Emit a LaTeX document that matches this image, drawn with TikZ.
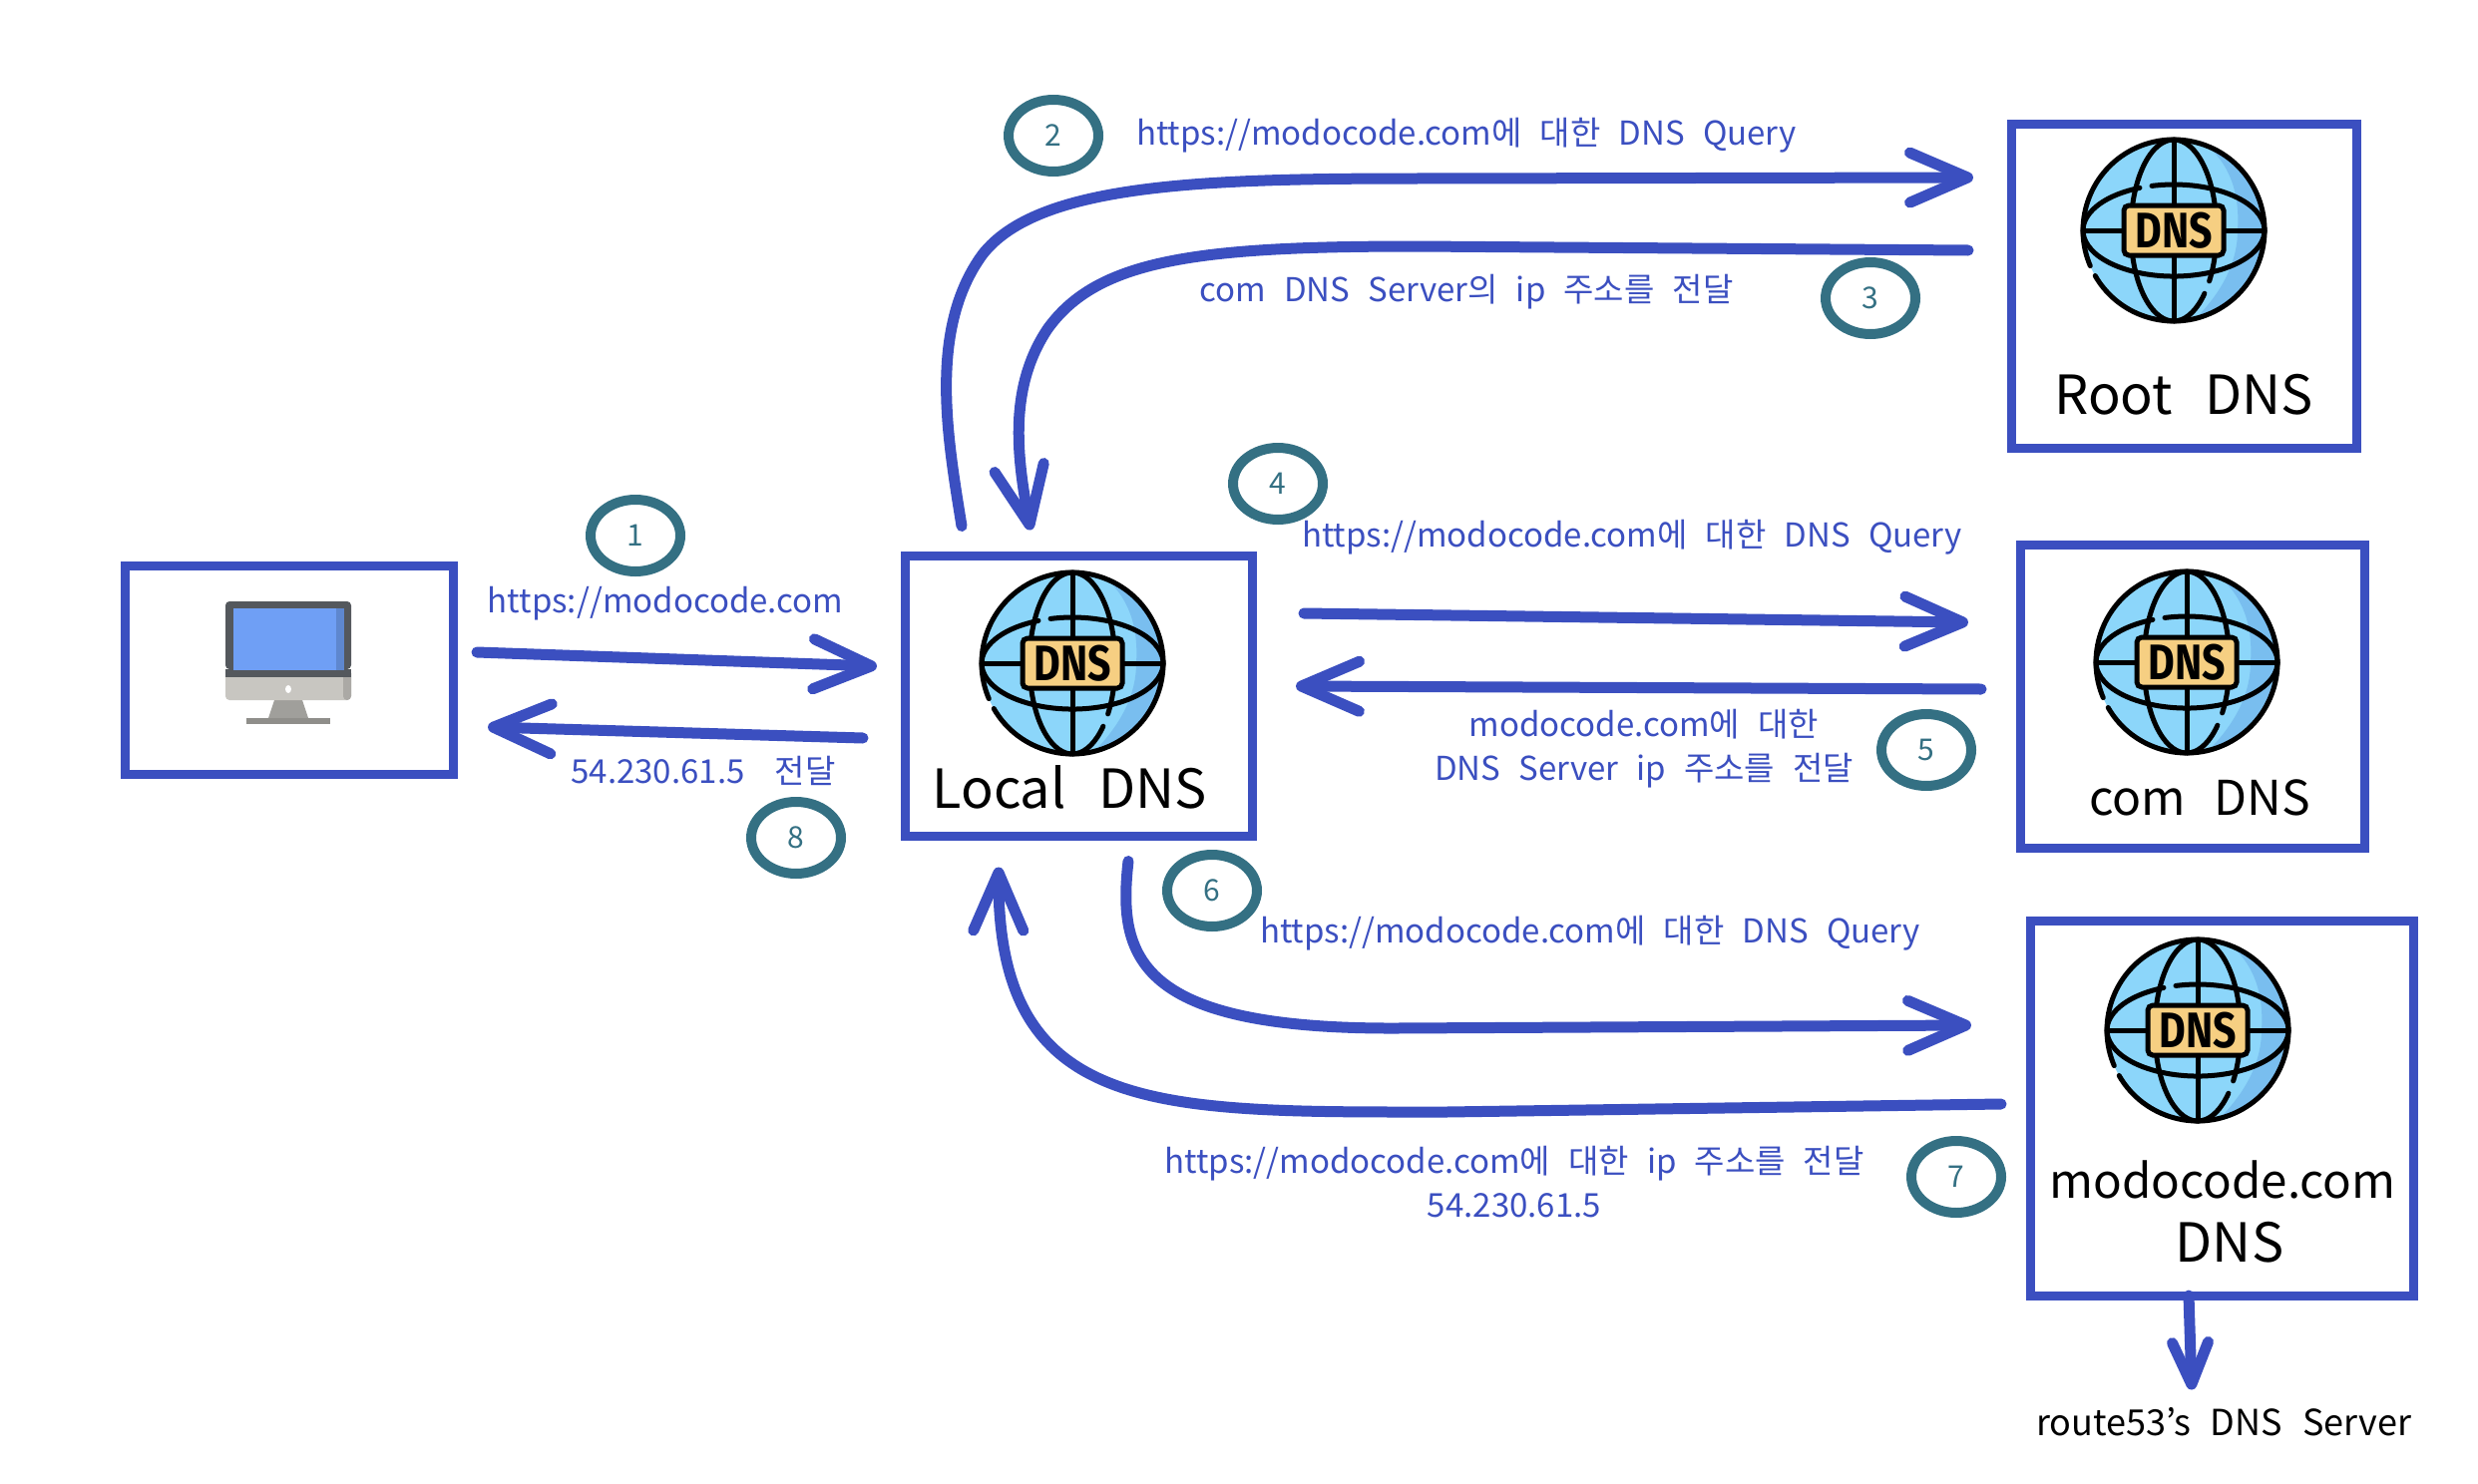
\documentclass[tikz,border=0pt]{standalone}
\usepackage{fontspec}
\setmainfont{Noto Sans CJK KR}
\newfontfamily\tagfont{Fira Sans}
\usetikzlibrary{arrows.meta}
\usetikzlibrary{shapes.geometric}
\definecolor{flowBlue}{HTML}{3B4FC0}
\definecolor{badgeTeal}{HTML}{347083}
\definecolor{globeLight}{HTML}{8CD6FA}
\definecolor{globeDark}{HTML}{79BEEF}
\definecolor{tagOrange}{HTML}{F6CF82}
\definecolor{bezelDark}{HTML}{54585D}
\definecolor{screenBlue}{HTML}{6F9FF5}
\definecolor{screenEdge}{HTML}{5E87CF}
\definecolor{chinGray}{HTML}{C8C6C1}
\definecolor{chinEdge}{HTML}{ABA9A5}
\definecolor{standGray}{HTML}{A09F9B}
\definecolor{baseGray}{HTML}{8F8E8A}
\newcommand{\noteFont}[1]{\fontsize{#1}{44}\selectfont\spaceskip .55em\relax}
\newcommand{\titleFont}[1]{\fontsize{#1}{64}\selectfont\spaceskip .6em\relax}
\tikzset{
  dnsGlobe/.pic={
    \begin{scope}[x=1pt,y=1pt,line width=5pt,line cap=round]
    \fill[globeLight] (0,0) circle[radius=91];
    \fill[globeDark] (34,84.4) .. controls (60,62) and (66,30) .. (64,0) .. controls (64,-35) and (45,-65) .. (22,-88.3) arc[start angle=-76,end angle=68,radius=91] -- cycle;
    \draw (-78.8,-45.5) arc[start angle=210,end angle=563,radius=91];
    \draw (35.6,-50.9) arc[start angle=-34,end angle=316,x radius=43,y radius=91];
    \draw (-22,44.6) arc[start angle=104,end angle=-248,x radius=91,y radius=46];
    \draw (0,91) -- (0,-91);
    \draw (-91,0) -- (91,0);
    \node (-tag) [draw, fill=tagOrange, rounded corners=5pt, minimum width=100pt, minimum height=50pt, inner sep=0pt, font=\tagfont\fontsize{50}{50}\selectfont\bfseries] at (0,0) {\scalebox{.82}[1]{DNS}};
    \end{scope}
  },
  monitorIcon/.pic={
    \begin{scope}[x=1pt,y=1pt]
    \fill[standGray] (-14,-41) -- (14,-41) -- (20,-59) -- (-20,-59) -- cycle;
    \fill[baseGray] (-42,-59) rectangle (42,-65);
    \fill[chinGray, rounded corners=4pt] (-63,-10) -- (-63,-41) -- (63,-41) -- (63,-10) -- cycle;
    \fill[chinEdge, rounded corners=4pt] (55,-10) -- (55,-41) -- (63,-41) -- (63,-10) -- cycle;
    \fill[bezelDark, rounded corners=4pt] (-63,-10) -- (-63,58) -- (63,58) -- (63,-10) -- cycle;
    \fill[bezelDark] (-63,-18) rectangle (63,-10);
    \fill[screenBlue] (-55,-11) rectangle (56,51);
    \fill[screenEdge] (48,-11) rectangle (56,51);
    \fill[white] (0,-30) ellipse[x radius=3,y radius=4];
    \end{scope}
  }
}
\begin{document}
\begin{tikzpicture}[x=1pt,y=-1pt]
\tikzstyle{boxStyle}=[shape = rectangle, draw = flowBlue, line width = 9pt, inner sep = 0pt, outer sep = 0pt]
\tikzstyle{badgeStyle}=[shape = ellipse, draw = badgeTeal, text = badgeTeal, line width = 10pt, minimum width = 90pt, minimum height = 72pt, inner sep = 0pt, font = \fontsize{30}{30}\selectfont]
\tikzstyle{flowStyle}=[draw = flowBlue, line width = 11pt, line cap = round, -{Straight Barb[length = 58pt, width = 50pt, line width = 11pt, round]}]
\tikzstyle{noteStyle}=[text = flowBlue, align = center, inner sep = 0pt, font = \noteFont{33}]
\tikzstyle{titleStyle}=[text = black, align = center, inner sep = 0pt, font = \titleFont{54}]
\useasboundingbox (0,0) rectangle (2484,1488);
\node[boxStyle, minimum width = 329pt, minimum height = 209pt] (pc) at (289.5,672) {};
\node[boxStyle, minimum width = 348pt, minimum height = 281pt] (local) at (1081,698) {};
\node[boxStyle, minimum width = 346pt, minimum height = 325pt] (root) at (2189,287) {};
\node[boxStyle, minimum width = 345pt, minimum height = 304pt] (com) at (2197.5,698) {};
\node[boxStyle, minimum width = 384pt, minimum height = 376pt] (modo) at (2227,1111) {};
\pic (pcicon) at (289,661) {monitorIcon};
\pic (localglobe) at (1075,665) {dnsGlobe};
\pic (rootglobe) at (2179,231) {dnsGlobe};
\pic (comglobe) at (2192,664) {dnsGlobe};
\pic (modoglobe) at (2203,1033) {dnsGlobe};
\node[titleStyle] (localtitle) at (1072,789) {Local DNS};
\node[titleStyle] (roottitle) at (2189,396) {Root DNS};
\node[titleStyle, font = \titleFont{48}] (comtitle) at (2205,800) {com DNS};
\node[titleStyle] (modotitle) at (2228,1215) {{\fontsize{47.5}{64}\selectfont modocode.com}\\\hspace*{14pt}DNS};
\node[badgeStyle] (b1) at (637,537) {1};
\node[badgeStyle] (b2) at (1056,136) {2};
\node[badgeStyle] (b3) at (1875,299) {3};
\node[badgeStyle] (b4) at (1281,485) {4};
\node[badgeStyle] (b5) at (1931,752) {5};
\node[badgeStyle] (b6) at (1215,893) {6};
\node[badgeStyle] (b7) at (1961,1180) {7};
\node[badgeStyle] (b8) at (798,840) {8};
\node[noteStyle] (n1) at (667,605) {https://modocode.com};
\node[noteStyle] (n2) at (1470,136) {https://modocode.com에 대한 DNS Query};
\node[noteStyle] (n3) at (1470,293) {com DNS Server의 ip 주소를 전달};
\node[noteStyle] (n4) at (1636,539) {https://modocode.com에 대한 DNS Query};
\node[noteStyle] (n5) at (1648,751) {modocode.com에 대한\\DNS Server ip 주소를 전달};
\node[noteStyle] (n6) at (1594,936) {https://modocode.com에 대한 DNS Query};
\node[noteStyle] (n7) at (1518,1185) {https://modocode.com에 대한 ip 주소를 전달\\54.230.61.5};
\node[noteStyle] (n8) at (705,773) {54.230.61.5\hspace{12pt} 전달};
\node[noteStyle, text = black, font = \noteFont{36}] (route) at (2229,1426) {route53's DNS Server};
\draw[flowStyle] ([xshift=24pt,yshift=18pt]pc.east) -- ([xshift=-28pt,yshift=30pt]local.west);
\draw[flowStyle] ([xshift=-117pt,yshift=30pt]local.north) .. controls (950,440) and (930,330) .. (985,255) .. controls (1040,185) and (1200,179) .. (1420,179) -- ([xshift=-38pt,yshift=109pt]root.west);
\draw[flowStyle] ([xshift=-43pt,yshift=36pt]root.west) -- (1420,247) .. controls (1200,247) and (1100,260) .. (1050,330) .. controls (1010,390) and (1020,460) .. ([xshift=-48pt,yshift=26pt]local.north);
\draw[flowStyle] ([xshift=52pt,yshift=83pt]local.east) -- ([xshift=-52pt,yshift=74pt]com.west);
\draw[flowStyle] ([xshift=-39pt,yshift=7pt]com.west) -- ([xshift=44pt,yshift=10pt]local.east);
\draw[flowStyle] ([xshift=50pt,yshift=-25pt]local.south) .. controls (1120,960) and (1140,1032) .. (1400,1031) -- ([xshift=-59pt,yshift=83pt]modo.west);
\draw[flowStyle] ([xshift=-29pt,yshift=4pt]modo.west) -- (1450,1115) .. controls (1160,1115) and (1000,1120) .. ([xshift=-80pt,yshift=-31pt]local.south);
\draw[flowStyle] ([xshift=-42pt,yshift=-42pt]local.west) -- ([xshift=35pt,yshift=-57pt]pc.east);
\draw[flowStyle, -{Straight Barb[length = 42pt, width = 36pt, line width = 11pt, round]}] ([xshift=-33pt]modo.south) -- ([xshift=-32pt,yshift=18pt]route.north);
\end{tikzpicture}
\end{document}
